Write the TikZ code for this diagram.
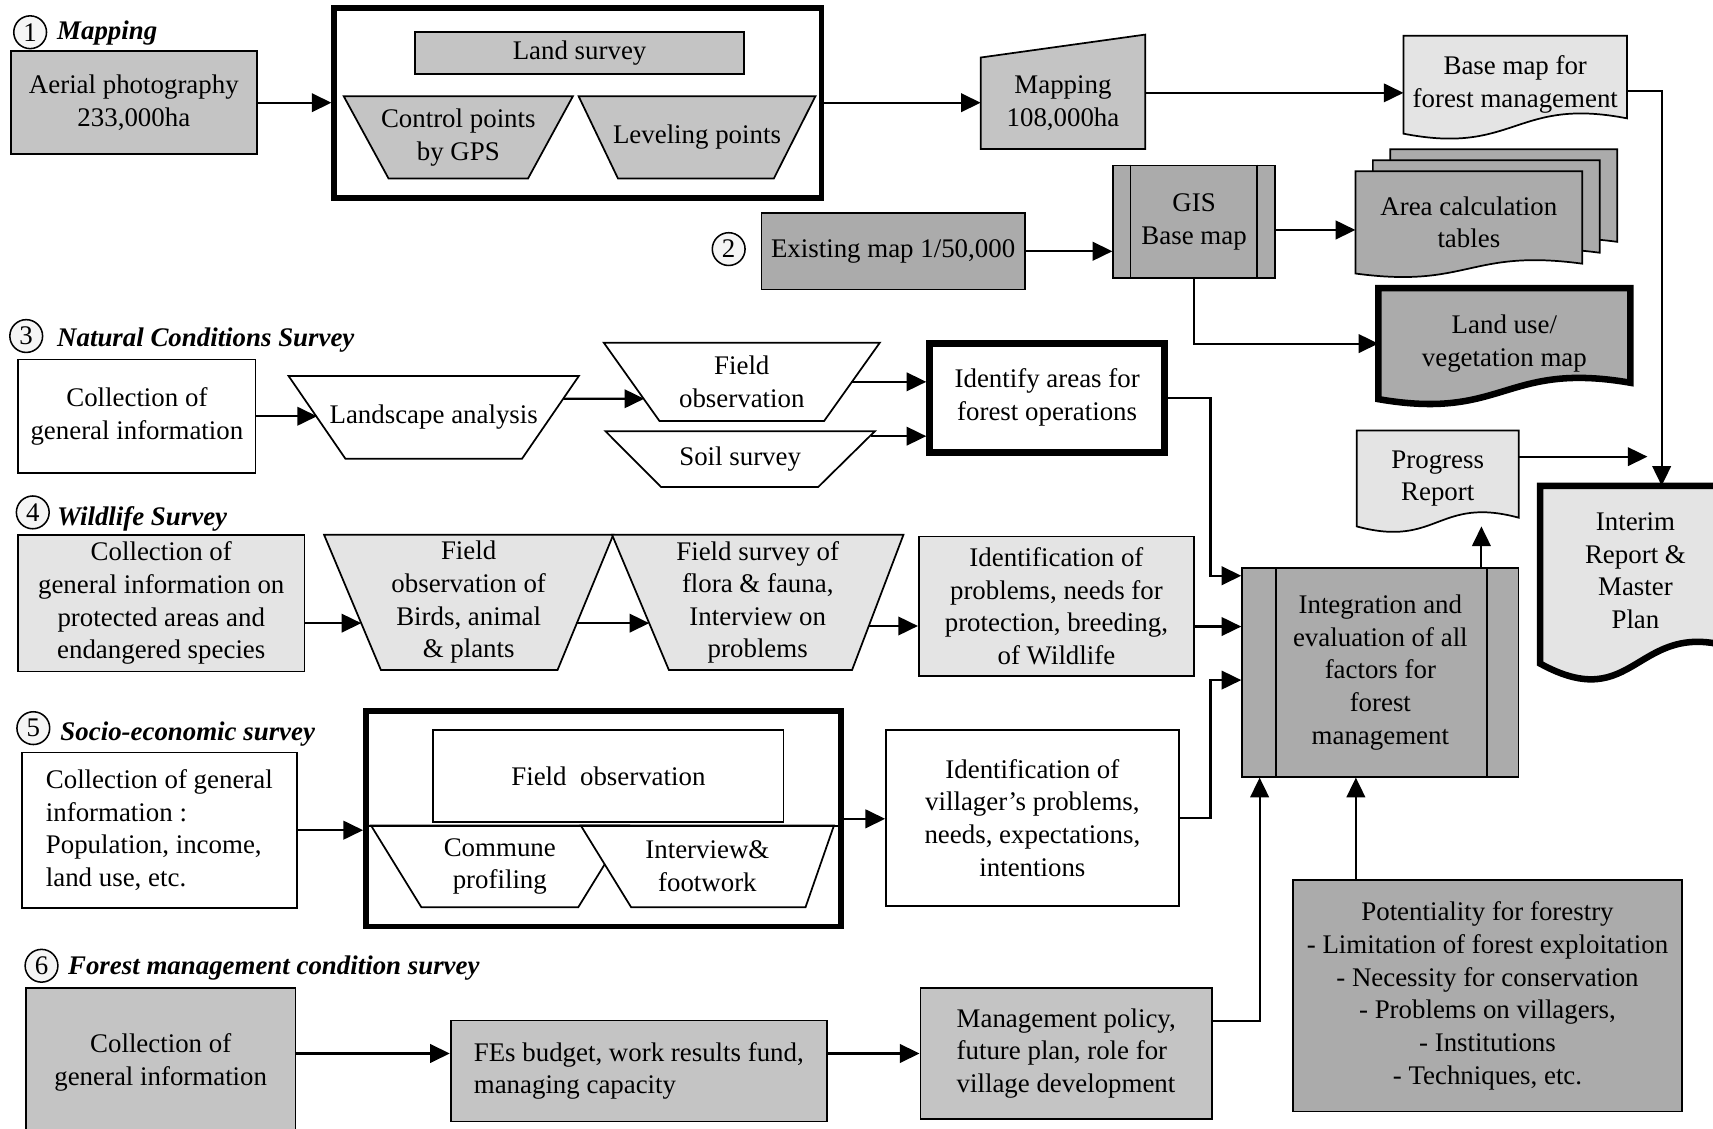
\documentclass[tikz,border=0pt]{standalone}
\usepackage{fontspec}
\setmainfont{Liberation Serif}
\usepackage{tikz}
\usetikzlibrary{arrows.meta,positioning,calc,backgrounds}
\definecolor{fmid}{HTML}{C4C4C4}
\definecolor{fdark}{HTML}{ABABAB}
\definecolor{flight}{HTML}{E4E4E4}

\begin{document}
\begin{tikzpicture}[
  x=0.2mm,y=-0.2mm,
  font=\fontsize{14pt}{17pt}\selectfont,
  box/.style={draw,line width=0.9pt,inner sep=2pt,align=center},
  heavy/.style={box,line width=3pt},
  txt/.style={inner sep=2pt,align=center},
  num/.style={circle,draw,line width=0.8pt,fill=gray!8,inner sep=0pt,minimum size=6mm},
  ttl/.style={anchor=west,inner sep=0pt,font=\fontsize{14pt}{17pt}\selectfont\bfseries\itshape},
  arr/.style={-{Triangle[length=3.6mm,width=3.4mm]},line width=1.1pt},
  outline/.style={draw,line width=0.9pt}
]
\useasboundingbox (0,0) rectangle (1568,1033);

% 1 mapping
\node[num] (n1) at (27.6,29.5) {1};
\node[ttl] (t1) at (52,30.5) {Mapping};
\node[box,fill=fmid,minimum width=45mm,minimum height=18.8mm] (aerial) at (122.5,94)
  {Aerial photography\\233,000ha};
\node[heavy,minimum width=89.2mm,minimum height=34.8mm] (survbox) at (529,94) {};
\node[box,fill=fmid,minimum width=60.2mm,minimum height=7.8mm] (land) at (530.5,48.5) {Land survey};
\node[txt,minimum width=41.8mm,minimum height=14.9mm] (ctrl) at (419.5,125.75) {Control points\\by GPS};
\node[txt,minimum width=43.2mm,minimum height=14.9mm] (level) at (638,125.75) {Leveling points};
\node[txt,minimum width=30mm,minimum height=16.6mm] (map) at (973,94.5) {Mapping\\108,000ha};
\node[txt,minimum width=40.8mm,minimum height=17.8mm] (basemap) at (1387,77.5)
  {Base map for\\forest management};

% 2 existing map
\node[num] (n2) at (667,228) {2};
\node[box,fill=fdark,minimum width=48.2mm,minimum height=14mm] (exist) at (817.5,230)
  {Existing map 1/50,000};
\node[box,fill=fdark,minimum width=29.6mm,minimum height=20.6mm] (gis) at (1093,203) {GIS\\Base map};
\node[txt,minimum width=41.4mm,minimum height=18.6mm] (area3) at (1376.5,183.5) {};
\node[txt,minimum width=41.4mm,minimum height=18.6mm] (area2) at (1360.5,193.5) {};
\node[txt,minimum width=41.4mm,minimum height=18.6mm] (area) at (1344.5,203.5)
  {Area calculation\\tables};
\node[txt,minimum width=46mm,minimum height=20.2mm] (landuse) at (1377,314.5)
  {Land use/\\vegetation map};

% 3 natural conditions
\node[num] (n3) at (24,307.6) {3};
\node[ttl] (t3) at (52,311) {Natural Conditions Survey};
\node[box,fill=white,minimum width=43.4mm,minimum height=20.8mm] (coll3) at (125.3,381)
  {Collection of\\general information};
\node[txt,minimum width=53mm,minimum height=15mm] (landscape) at (397,382) {Landscape analysis};
\node[txt,minimum width=50.4mm,minimum height=14.2mm] (fobs) at (679,349.5) {Field\\observation};
\node[txt,minimum width=49.2mm,minimum height=10.1mm] (soil) at (677.5,420.25) {Soil survey};
\node[heavy,line width=3.6pt,fill=white,minimum width=43mm,minimum height=20mm] (ident)
  at (958.5,364) {Identify areas for\\forest operations};

% 4 wildlife
\node[num] (n4) at (30,469) {4};
\node[ttl] (t4) at (52,475) {Wildlife Survey};
\node[box,fill=flight,minimum width=52.4mm,minimum height=25mm] (coll4) at (147.6,552.2)
  {Collection of\\general information on\\protected areas and\\endangered species};
\node[txt,minimum width=52.8mm,minimum height=24.6mm] (birds) at (429,551.4)
  {Field\\observation of\\Birds, animal\\\& plants};
\node[txt,minimum width=53.2mm,minimum height=24.6mm] (fsurv) at (693.6,551.4)
  {Field survey of\\flora \& fauna,\\Interview on\\problems};
\node[box,fill=flight,minimum width=50.4mm,minimum height=25.6mm] (probs) at (967,555)
  {Identification of\\problems, needs for\\protection, breeding,\\of Wildlife};

% integration and reports
\node[box,fill=fdark,minimum width=50.6mm,minimum height=38.2mm] (integ) at (1263.5,615.5)
  {Integration and\\evaluation of all\\factors for\\forest\\management};
\node[txt,minimum width=29.5mm,minimum height=17.4mm] (progress) at (1316,438) {Progress\\Report};
\node[txt,minimum width=34.8mm,minimum height=31mm] (interim) at (1497,522.5)
  {Interim\\Report \&\\Master\\Plan};
\coordinate (irin) at (1508,418);
\coordinate (bus) at (1108,600);

% 5 socio-economic
\node[num] (n5) at (30.5,666.5) {5};
\node[ttl] (t5) at (55,672) {Socio-economic survey};
\node[box,fill=white,minimum width=50.4mm,minimum height=28.4mm,align=left] (coll5)
  at (145.85,759.9) {Collection of general\\information :\\Population, income,\\land use, etc.};
\node[heavy,minimum width=86.9mm,minimum height=39.4mm] (socio) at (552.25,749.5) {};
\node[box,fill=white,minimum width=64.1mm,minimum height=16.9mm] (fobs5) at (556.9,710.25)
  {Field~~observation};
\draw[line width=0.9pt] ([yshift=-1.3mm]socio.west) -- ([yshift=-1.3mm]socio.east);
\node[txt,minimum width=47mm,minimum height=14.8mm] (commune) at (457.5,793) {Commune\\profiling};
\node[txt,minimum width=46.2mm,minimum height=14.8mm] (intv) at (647.5,793) {Interview\&\\footwork};
\node[box,fill=white,minimum width=53.6mm,minimum height=32.2mm] (villager) at (945,748.5)
  {Identification of\\villager's problems,\\needs, expectations,\\intentions};

% 6 forest management
\node[num] (n6) at (38,884) {6};
\node[ttl] (t6) at (62,886) {Forest management condition survey};
\node[box,fill=fmid,minimum width=49.4mm,minimum height=27.2mm] (coll6) at (147.1,972.3)
  {Collection of\\general information};
\node[box,fill=fmid,minimum width=68.9mm,minimum height=18.5mm,align=left] (fees)
  at (584.75,980.35) {FEs budget, work results fund,\\managing capacity};
\node[box,fill=fmid,minimum width=53.4mm,minimum height=23.9mm,align=left] (mgmt)
  at (976,964.3) {Management policy,\\future plan, role for\\village development};
\node[box,fill=fdark,minimum width=71.2mm,minimum height=42.4mm] (potent) at (1361.6,911.5)
  {Potentiality for forestry\\- Limitation of forest exploitation\\- Necessity for conservation\\- Problems on villagers,\\- Institutions\\- Techniques, etc.};

% outlines behind the text
\begin{scope}[on background layer]
  % trapezoids, wide side up
  \draw[outline,fill=fmid] (ctrl.north west) -- (ctrl.north east)
    -- ($(ctrl.south east)+(-41,0)$) -- ($(ctrl.south west)+(41,0)$) -- cycle;
  \draw[outline,fill=fmid] (level.north west) -- (level.north east)
    -- ($(level.south east)+(-38,0)$) -- ($(level.south west)+(36,0)$) -- cycle;
  \draw[outline,fill=white] (landscape.north west) -- (landscape.north east)
    -- ($(landscape.south east)+(-52,0)$) -- ($(landscape.south west)+(52,0)$) -- cycle;
  \draw[outline,fill=white] (fobs.north west) -- (fobs.north east)
    -- ($(fobs.south east)+(-51,0)$) -- ($(fobs.south west)+(51,0)$) -- cycle;
  \draw[outline,fill=white] (soil.north west) -- (soil.north east)
    -- ($(soil.south east)+(-52,0)$) -- ($(soil.south west)+(51,0)$) -- cycle;
  \draw[outline,fill=flight] (birds.north west) -- (birds.north east)
    -- ($(birds.south east)+(-51,0)$) -- ($(birds.south west)+(52,0)$) -- cycle;
  \draw[outline,fill=flight] (fsurv.north west) -- (fsurv.north east)
    -- ($(fsurv.south east)+(-47,0)$) -- ($(fsurv.south west)+(52,0)$) -- cycle;
  \draw[outline,fill=white] (commune.north west) -- (commune.north east)
    -- ($(commune.south east)+(-46,0)$) -- ($(commune.south west)+(46,0)$) -- cycle;
  \draw[outline,fill=white] (intv.north west) -- (intv.north east)
    -- ($(intv.south east)+(-26,0)$) -- ($(intv.south west)+(46,0)$) -- cycle;
  % manual input
  \draw[outline,fill=fmid] (map.south west) -- (map.north west)
    -- ($(map.north east)+(0,-21)$) -- (map.south east) -- cycle;
  % documents
  \draw[outline,fill=flight] (basemap.north west) -- (basemap.north east)
    -- ($(basemap.south east)+(0,-14)$) .. controls ($(basemap.south)+(0,-34)$)
    and ($(basemap.south)+(0,20)$) .. (basemap.south west) -- cycle;
  \draw[outline,fill=fdark] (area3.north west) -- (area3.north east)
    -- ($(area3.south east)+(0,-9)$) .. controls ($(area3.south)+(0,-23)$)
    and ($(area3.south)+(0,14)$) .. (area3.south west) -- cycle;
  \draw[outline,fill=fdark] (area2.north west) -- (area2.north east)
    -- ($(area2.south east)+(0,-9)$) .. controls ($(area2.south)+(0,-23)$)
    and ($(area2.south)+(0,14)$) .. (area2.south west) -- cycle;
  \draw[outline,fill=fdark] (area.north west) -- (area.north east)
    -- ($(area.south east)+(0,-9)$) .. controls ($(area.south)+(0,-23)$)
    and ($(area.south)+(0,14)$) .. (area.south west) -- cycle;
  \draw[outline,line width=3.4pt,fill=fdark] (landuse.north west) -- (landuse.north east)
    -- ($(landuse.south east)+(0,-15)$) .. controls ($(landuse.south)+(0,-35)$)
    and ($(landuse.south)+(0,20)$) .. (landuse.south west) -- cycle;
  \draw[outline,fill=flight] (progress.north west) -- (progress.north east)
    -- ($(progress.south east)+(0,-8)$) .. controls ($(progress.south)+(0,-28)$)
    and ($(progress.south)+(0,20)$) .. (progress.south west) -- cycle;
  \draw[outline,line width=3.4pt,fill=flight] (interim.north west) -- (interim.north east)
    -- ($(interim.south east)+(0,-8)$) .. controls ($(interim.south)+(0,-34)$)
    and ($(interim.south)+(0,55)$) .. ($(interim.south west)+(0,7)$) -- cycle;
\end{scope}
\draw[line width=0.9pt] ([xshift=3.3mm]gis.north west) -- ([xshift=3.3mm]gis.south west);
\draw[line width=0.9pt] ([xshift=-3.5mm]gis.north east) -- ([xshift=-3.5mm]gis.south east);
\draw[line width=0.9pt] ([xshift=6.3mm]integ.north west) -- ([xshift=6.3mm]integ.south west);
\draw[line width=0.9pt] ([xshift=-6mm]integ.north east) -- ([xshift=-6mm]integ.south east);

% connectors
\draw[arr] (aerial) -- (survbox);
\draw[arr] (survbox.east) -- (survbox.east -| map.west);
\draw[arr] ([yshift=1.9mm]map.east) -- ([yshift=1.9mm]map.east -| basemap.west);
\draw[arr] ([yshift=-1.1mm]basemap.east) -| ([xshift=4.8mm]interim.north);
\draw[arr] (exist.east) -- (exist.east -| gis.west);
\draw[arr] ([yshift=-1.5mm]gis.east) -- ([yshift=-1.5mm]gis.east -| area.west);
\draw[arr] (gis.south) |- (landuse.west);
\draw[arr] (coll3.east) -- ($(coll3.east -| landscape.west)+(26,0)$);
\draw[arr] ($(landscape.east)+(-14,-17)$) -- ($(fobs.west)+(37,15.5)$);
\draw[arr] ($(fobs.east)+(-26,0)$) -- (fobs.east -| ident.west);
\draw[arr] ($(soil.east)+(-4,-21)$) -- ($(soil.east -| ident.west)+(0,-21)$);
\draw[arr] (ident.east) -- (ident.east -| bus) |- ([yshift=17.7mm]integ.west);
\draw[arr] ($(birds.west -| coll4.east)+(0,19)$) -- ($(birds.west)+(34,19)$);
\draw[arr] ($(birds.east)+(-34,19)$) -- ($(fsurv.west)+(34,19)$);
\draw[arr] ($(fsurv.east)+(-32,21.6)$) -- ($(fsurv.east -| probs.west)+(0,21.6)$);
\draw[arr] ([yshift=-3.7mm]probs.east) -- ([yshift=-3.7mm]probs.east -| integ.west);
\draw[arr] ([xshift=18.5mm]integ.north) -- ([xshift=18.5mm]integ.north |- progress.south);
\draw[arr] (progress.east |- irin) -- (irin);
\draw[arr] (coll5.east) -- (coll5.east -| socio.west);
\draw[arr] (socio.east) -- (socio.east -| villager.west);
\draw[arr] (villager.east) -- (villager.east -| bus) |- ([yshift=-1.4mm]integ.west);
\draw[arr] ([yshift=1.6mm]coll6.east) -- ([yshift=1.6mm]coll6.east -| fees.west);
\draw[arr] (fees.east |- mgmt.west) -- (mgmt.west);
\draw[arr] ([yshift=6mm]mgmt.east) -| ([xshift=-22.1mm]integ.south);
\draw[arr] ([xshift=-24.1mm]potent.north) -- ([xshift=-24.1mm]potent.north |- integ.south);
\end{tikzpicture}
\end{document}
